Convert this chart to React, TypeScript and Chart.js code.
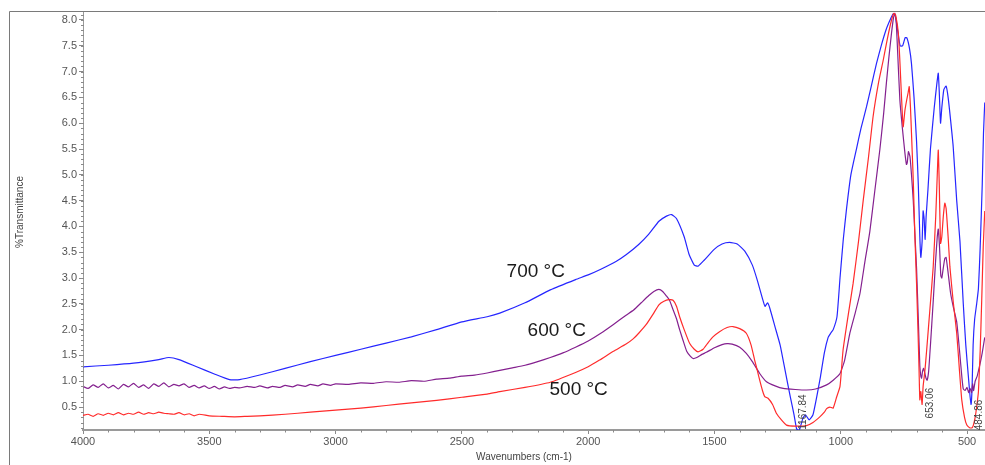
import React, { useEffect, useRef } from "react";
import { Chart, registerables } from "chart.js";

Chart.register(...registerables);

// ---- data (wavenumber cm-1, %T) ----
const blueWn = [4000, 3900, 3800, 3700, 3660, 3620, 3550, 3480, 3420, 3380, 3300, 3200, 3100, 3000, 2900, 2800, 2700, 2600, 2500, 2400, 2350, 2250, 2150, 2050, 2000, 1950, 1890, 1850, 1800, 1760, 1720, 1690, 1670, 1650, 1620, 1600, 1580, 1565, 1540, 1500, 1470, 1440, 1410, 1380, 1350, 1330, 1310, 1300, 1290, 1280, 1260, 1240, 1220, 1200, 1185, 1175, 1165, 1150, 1140, 1125, 1110, 1095, 1080, 1065, 1050, 1040, 1030, 1015, 1003, 990, 977, 960, 938, 920, 898, 880, 859, 840, 820, 805, 793, 785, 775, 765, 755, 745, 738, 728, 720, 710, 700, 693, 687, 683, 678, 674, 670, 666, 662, 655, 645, 630, 620, 614, 610, 605, 600, 592, 583, 575, 565, 555, 541, 528, 515, 505, 495, 488, 484, 480, 476, 470, 462, 455, 448, 440, 435, 430];
const blueT = [1.28, 1.31, 1.35, 1.42, 1.46, 1.42, 1.28, 1.14, 1.03, 1.03, 1.12, 1.25, 1.38, 1.5, 1.62, 1.74, 1.86, 2.0, 2.15, 2.25, 2.32, 2.52, 2.77, 2.97, 3.06, 3.17, 3.32, 3.45, 3.65, 3.85, 4.1, 4.2, 4.23, 4.15, 3.8, 3.45, 3.25, 3.23, 3.35, 3.56, 3.66, 3.69, 3.66, 3.52, 3.25, 2.95, 2.6, 2.45, 2.52, 2.4, 2.05, 1.7, 1.2, 0.7, 0.35, 0.08, 0.04, 0.28, 0.35, 0.25, 0.35, 0.7, 1.1, 1.55, 1.85, 1.93, 2.0, 2.25, 3.0, 3.75, 4.35, 5.0, 5.5, 5.9, 6.32, 6.7, 7.15, 7.5, 7.82, 8.0, 8.12, 8.1, 7.8, 7.5, 7.5, 7.66, 7.65, 7.45, 7.15, 6.5, 5.65, 4.8, 3.8, 3.4, 3.7, 4.3, 4.15, 3.75, 4.2, 4.7, 5.5, 6.3, 6.75, 6.97, 6.6, 6.0, 6.3, 6.65, 6.72, 6.5, 6.05, 5.55, 4.5, 3.7, 2.5, 1.7, 1.1, 0.7, 0.55, 0.9, 1.7, 2.2, 2.5, 2.8, 3.6, 4.8, 5.8, 6.4];

const purpleWn = [4000, 3980, 3960, 3940, 3920, 3900, 3880, 3860, 3840, 3820, 3800, 3780, 3760, 3740, 3720, 3700, 3680, 3660, 3640, 3620, 3600, 3580, 3560, 3540, 3520, 3500, 3480, 3460, 3440, 3420, 3400, 3380, 3350, 3320, 3300, 3270, 3250, 3220, 3200, 3170, 3150, 3120, 3100, 3070, 3050, 3020, 3000, 2950, 2900, 2850, 2800, 2750, 2700, 2650, 2600, 2550, 2500, 2450, 2400, 2350, 2300, 2250, 2200, 2150, 2100, 2050, 2000, 1950, 1900, 1850, 1820, 1790, 1760, 1740, 1720, 1705, 1690, 1678, 1665, 1651, 1638, 1625, 1610, 1595, 1585, 1570, 1550, 1532, 1500, 1470, 1450, 1430, 1400, 1374, 1350, 1321, 1294, 1260, 1228, 1180, 1136, 1100, 1056, 1030, 1003, 985, 964, 944, 924, 905, 885, 865, 845, 830, 819, 809, 799, 791, 786, 781, 775, 766, 756, 746, 740, 737, 732, 726, 720, 713, 706, 700, 693, 687, 683, 680, 676, 672, 667, 662, 658, 652, 645, 634, 625, 618, 614, 609, 604, 600, 594, 588, 583, 575, 565, 555, 541, 530, 520, 515, 508, 500, 494, 488, 482, 478, 474, 468, 460, 455, 448, 440, 430];
const purpleT = [0.9, 0.86, 0.93, 0.88, 0.95, 0.87, 0.92, 0.85, 0.94, 0.89, 0.96, 0.88, 0.93, 0.86, 0.95, 0.9, 0.97, 0.89, 0.94, 0.91, 0.95, 0.88, 0.92, 0.87, 0.91, 0.86, 0.9, 0.85, 0.89, 0.86, 0.88, 0.87, 0.9, 0.88, 0.91, 0.87, 0.9, 0.88, 0.92, 0.89, 0.93, 0.9, 0.94, 0.91, 0.95, 0.92, 0.95, 0.94, 0.97, 0.96, 0.99, 0.98, 1.01, 1.0, 1.04, 1.06, 1.1, 1.12, 1.16, 1.21, 1.26, 1.31, 1.38, 1.46, 1.55, 1.66, 1.78, 1.93, 2.1, 2.28, 2.38, 2.52, 2.66, 2.74, 2.78, 2.74, 2.65, 2.57, 2.4, 2.22, 2.0, 1.8, 1.58, 1.48, 1.44, 1.46, 1.52, 1.56, 1.65, 1.71, 1.73, 1.72, 1.66, 1.54, 1.38, 1.15, 0.99, 0.91, 0.86, 0.84, 0.83, 0.85, 0.93, 1.02, 1.15, 1.4, 1.93, 2.3, 2.7, 3.3, 3.9, 4.7, 5.5, 6.2, 6.8, 7.3, 7.75, 8.05, 8.13, 8.0, 7.4, 6.45, 5.9, 5.42, 5.2, 5.23, 5.45, 5.35, 5.0, 4.5, 3.8, 3.2, 2.2, 1.3, 1.1, 1.06, 1.2, 1.25, 1.15, 1.05, 1.02, 1.2, 1.7, 2.55, 3.3, 3.8, 3.95, 3.6, 3.05, 3.0, 3.2, 3.38, 3.4, 3.1, 2.7, 2.45, 2.15, 1.6, 1.05, 0.85, 0.82, 0.88, 0.78, 0.86, 0.78, 0.95, 0.82, 1.0, 1.1, 1.2, 1.35, 1.55, 1.85];

const redWn = [4000, 3980, 3960, 3940, 3920, 3900, 3880, 3860, 3840, 3820, 3800, 3780, 3760, 3740, 3720, 3700, 3680, 3660, 3640, 3620, 3600, 3580, 3560, 3540, 3500, 3450, 3400, 3350, 3300, 3200, 3100, 3000, 2900, 2800, 2700, 2600, 2500, 2400, 2350, 2250, 2150, 2050, 2000, 1955, 1900, 1850, 1822, 1800, 1770, 1743, 1720, 1700, 1680, 1664, 1650, 1638, 1620, 1598, 1580, 1565, 1545, 1525, 1506, 1480, 1450, 1427, 1400, 1374, 1355, 1341, 1330, 1321, 1310, 1301, 1288, 1270, 1255, 1235, 1215, 1180, 1136, 1110, 1083, 1065, 1056, 1043, 1030, 1016, 1003, 991, 970, 951, 930, 911, 890, 872, 850, 832, 815, 799, 790, 783, 772, 765, 759, 753, 746, 739, 733, 729, 724, 720, 713, 707, 700, 694, 690, 687, 683, 678, 674, 667, 660, 647, 634, 624, 618, 614, 610, 605, 600, 594, 588, 583, 575, 568, 555, 541, 530, 521, 510, 501, 490, 480, 475, 468, 462, 455, 448, 442, 436, 430];
const redT = [0.34, 0.36, 0.32, 0.37, 0.34, 0.38, 0.35, 0.39, 0.35, 0.38, 0.36, 0.4, 0.36, 0.39, 0.37, 0.4, 0.38, 0.37, 0.36, 0.39, 0.35, 0.37, 0.33, 0.36, 0.33, 0.32, 0.31, 0.32, 0.33, 0.36, 0.4, 0.44, 0.48, 0.53, 0.58, 0.63, 0.69, 0.75, 0.8, 0.88, 0.98, 1.17, 1.28, 1.41, 1.58, 1.72, 1.82, 1.93, 2.1, 2.3, 2.48, 2.55, 2.58, 2.57, 2.45, 2.25, 2.0, 1.73, 1.62, 1.57, 1.62, 1.75, 1.86, 1.96, 2.04, 2.06, 2.02, 1.93, 1.7, 1.41, 1.2, 1.02, 0.82, 0.7, 0.67, 0.55, 0.38, 0.25, 0.15, 0.13, 0.14, 0.2, 0.31, 0.4, 0.47, 0.5, 0.48, 0.7, 0.9, 1.6, 2.3, 2.9, 3.7, 4.51, 5.35, 6.13, 6.8, 7.22, 7.65, 8.0, 8.13, 8.1, 7.74, 7.1, 6.45, 5.93, 6.25, 6.45, 6.6, 6.71, 6.3, 5.8, 4.9, 3.87, 2.9, 1.93, 1.2, 0.64, 0.8, 0.55, 0.9, 1.2, 1.6, 2.4, 3.22, 4.2, 5.0, 5.48, 4.8, 3.67, 3.8, 4.2, 4.45, 4.35, 3.8, 3.22, 2.55, 1.93, 1.2, 0.64, 0.3, 0.15, 0.1, 0.1, 0.15, 0.3, 0.5, 0.8, 1.6, 2.57, 3.6, 4.3];

const xTickValues = [4000, 3500, 3000, 2500, 2000, 1500, 1000, 500];
const yTickValues = [0.5, 1.0, 1.5, 2.0, 2.5, 3.0, 3.5, 4.0, 4.5, 5.0, 5.5, 6.0, 6.5, 7.0, 7.5, 8.0];

const seriesLabels = ["700 °C", "600 °C", "500 °C"];
const labelWn = [2323, 2240, 2153];
const labelT = [3.12, 1.97, 0.83];

const peakTexts = ["1167.84", "653.06", "484.86"];
const peakWn = [1150, 645, 452];
const peakT = [0.06, 0.28, 0.05];

const BLUE = "#2626ff";
const PURPLE = "#84208f";
const RED = "#ff2b2b";
const FONT = 'Arial, "Liberation Sans", sans-serif';

function pts(wn: number[], t: number[]) {
  return wn.map((x, i) => ({ x, y: t[i] }));
}

const overlay = {
  id: "overlay",
  afterDraw(chart: any) {
    const { ctx, chartArea } = chart;
    const xs = chart.scales.x;
    const ys = chart.scales.y;
    ctx.save();
    // outer frame
    ctx.strokeStyle = "#7a7a7a";
    ctx.lineWidth = 1;
    ctx.beginPath();
    ctx.moveTo(9.5, 465);
    ctx.lineTo(9.5, 11.5);
    ctx.lineTo(985, 11.5);
    ctx.stroke();

    // minor x ticks
    ctx.strokeStyle = "#8a8a8a";
    ctx.beginPath();
    for (let w = 400; w <= 4000; w += 100) {
      if (w % 500 === 0) continue;
      const px = Math.round(xs.getPixelForValue(w)) + 0.5;
      if (px < chartArea.left || px > chartArea.right) continue;
      ctx.moveTo(px, chartArea.bottom);
      ctx.lineTo(px, chartArea.bottom + 2.5);
    }
    ctx.stroke();

    // minor y ticks (dotted look)
    ctx.beginPath();
    for (let k = 1; k <= 81; k++) {
      const v = k / 10;
      const py = Math.round(ys.getPixelForValue(v)) + 0.5;
      if (py < chartArea.top || py > chartArea.bottom) continue;
      ctx.moveTo(chartArea.left - 2, py);
      ctx.lineTo(chartArea.left + 1, py);
    }
    ctx.stroke();

    // series labels
    ctx.fillStyle = "#1a1a1a";
    ctx.font = `19px ${FONT}`;
    ctx.textAlign = "left";
    ctx.textBaseline = "middle";
    seriesLabels.forEach((s, i) => {
      ctx.fillText(s, xs.getPixelForValue(labelWn[i]), ys.getPixelForValue(labelT[i]));
    });

    // peak labels (rotated)
    ctx.fillStyle = "#444";
    ctx.font = `10px ${FONT}`;
    peakTexts.forEach((s, i) => {
      ctx.save();
      ctx.translate(xs.getPixelForValue(peakWn[i]), ys.getPixelForValue(peakT[i]));
      ctx.rotate(-Math.PI / 2);
      ctx.textAlign = "left";
      ctx.textBaseline = "middle";
      ctx.fillText(s, 0, 0);
      ctx.restore();
    });

    // axis titles
    ctx.fillStyle = "#444";
    ctx.font = `10px ${FONT}`;
    ctx.textAlign = "center";
    ctx.textBaseline = "middle";
    ctx.fillText("Wavenumbers (cm-1)", 524, 457);
    ctx.save();
    ctx.translate(20, 212);
    ctx.rotate(-Math.PI / 2);
    ctx.fillText("%Transmittance", 0, 0);
    ctx.restore();
    ctx.restore();
  },
};

export default function App() {
  const ref = useRef<HTMLCanvasElement | null>(null);
  useEffect(() => {
    if (!ref.current) return;
    const mk = (label: string, wn: number[], t: number[], color: string) => ({
      label,
      data: pts(wn, t),
      borderColor: color,
      backgroundColor: color,
      borderWidth: 1.2,
      pointRadius: 0,
      tension: 0.15,
      fill: false,
    });
    const chart = new Chart(ref.current, {
      type: "line",
      data: {
        datasets: [
          mk("500 °C", redWn, redT, RED),
          mk("600 °C", purpleWn, purpleT, PURPLE),
          mk("700 °C", blueWn, blueT, BLUE),
        ],
      },
      options: {
        animation: false,
        responsive: false,
        parsing: true,
        layout: { padding: { top: 12, right: 0, left: 0, bottom: 0 } },
        plugins: { legend: { display: false }, tooltip: { enabled: false } },
        scales: {
          x: {
            type: "linear",
            reverse: true,
            min: 429,
            max: 4000,
            afterBuildTicks: (axis: any) => {
              axis.ticks = xTickValues.map((v) => ({ value: v }));
            },
            afterFit: (axis: any) => {
              axis.height = 35;
            },
            ticks: {
              autoSkip: false,
              maxRotation: 0,
              padding: 1,
              color: "#555",
              font: { size: 11, family: FONT },
              callback: (v: any) => String(v),
            },
            grid: { drawOnChartArea: false, drawTicks: true, tickLength: 4, color: "#8a8a8a" },
            border: { display: true, color: "#9a9a9a", width: 2 },
          },
          y: {
            type: "linear",
            min: 0.055,
            max: 8.155,
            afterBuildTicks: (axis: any) => {
              axis.ticks = yTickValues.map((v) => ({ value: v }));
            },
            afterFit: (axis: any) => {
              axis.width = 83;
            },
            ticks: {
              autoSkip: false,
              padding: 2,
              color: "#555",
              font: { size: 11, family: FONT },
              callback: (v: any) => Number(v).toFixed(1),
            },
            grid: { drawOnChartArea: false, drawTicks: true, tickLength: 4, color: "#8a8a8a" },
            border: { display: true, color: "#9a9a9a", width: 1 },
          },
        },
      },
      plugins: [overlay],
    });
    return () => chart.destroy();
  }, []);
  return (
    <canvas
      ref={ref}
      width={985}
      height={465}
      style={{ position: "absolute", left: 0, top: 0, width: 985, height: 465 }}
    />
  );
}
